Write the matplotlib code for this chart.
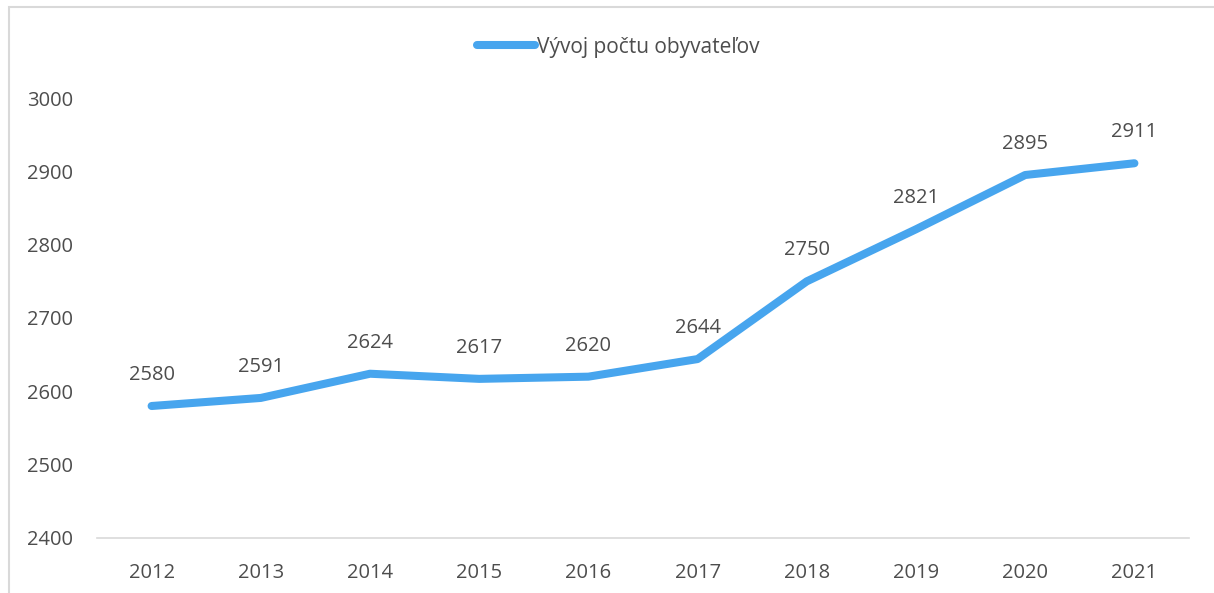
import matplotlib.pyplot as plt
from matplotlib.patches import Rectangle

# population by year
years = ["2012", "2013", "2014", "2015", "2016", "2017", "2018", "2019", "2020", "2021"]
population = [2580, 2591, 2624, 2617, 2620, 2644, 2750, 2821, 2895, 2911]
series_name = "Vývoj počtu obyvateľov"

plt.rcParams['font.family'] = ['Open Sans', 'DejaVu Sans']
text_col = "#4D4D4D"
line_col = "#47A5EE"
fs = 14.5

W, H = 1214, 593
fig = plt.figure(figsize=(W / 100, H / 100), dpi=100)
ax = fig.add_axes([97 / W, 1 - 538 / H, (1189 - 97) / W, (538 - 98) / H])

x = list(range(len(years)))
ax.plot(x, population, color=line_col, lw=5.8, solid_capstyle="round",
        solid_joinstyle="round", label=series_name)
for xi, v in zip(x, population):
    ax.annotate(str(v), (xi, v), xytext=(0, 15), textcoords="offset points",
                ha="center", va="bottom", fontsize=fs, color=text_col)

ax.set_xlim(-0.5, len(years) - 0.5)
ax.set_ylim(2400, 3000)
ax.set_yticks(range(2400, 3001, 100))
ax.set_xticks(x)
ax.set_xticklabels(years)
ax.tick_params(axis="both", length=0, labelsize=fs, labelcolor=text_col)
ax.tick_params(axis="y", pad=17)
ax.tick_params(axis="x", pad=18)
for s in ["top", "right", "left"]:
    ax.spines[s].set_visible(False)
ax.spines["bottom"].set_color("#D9D9D9")
ax.spines["bottom"].set_linewidth(1.2)

leg = fig.legend(loc="center", bbox_to_anchor=(618 / W, 1 - 47 / H), frameon=False,
                 fontsize=15, handlelength=2.8, handletextpad=0.1)
for t in leg.get_texts():
    t.set_color(text_col)

# chart border
fig.patches.append(Rectangle((9 / W, -0.05), 1.2, 1.05 - 7 / H, transform=fig.transFigure,
                             fill=False, edgecolor="#D9D9D9", lw=1.5))

fig.savefig("out.png", dpi=100)
